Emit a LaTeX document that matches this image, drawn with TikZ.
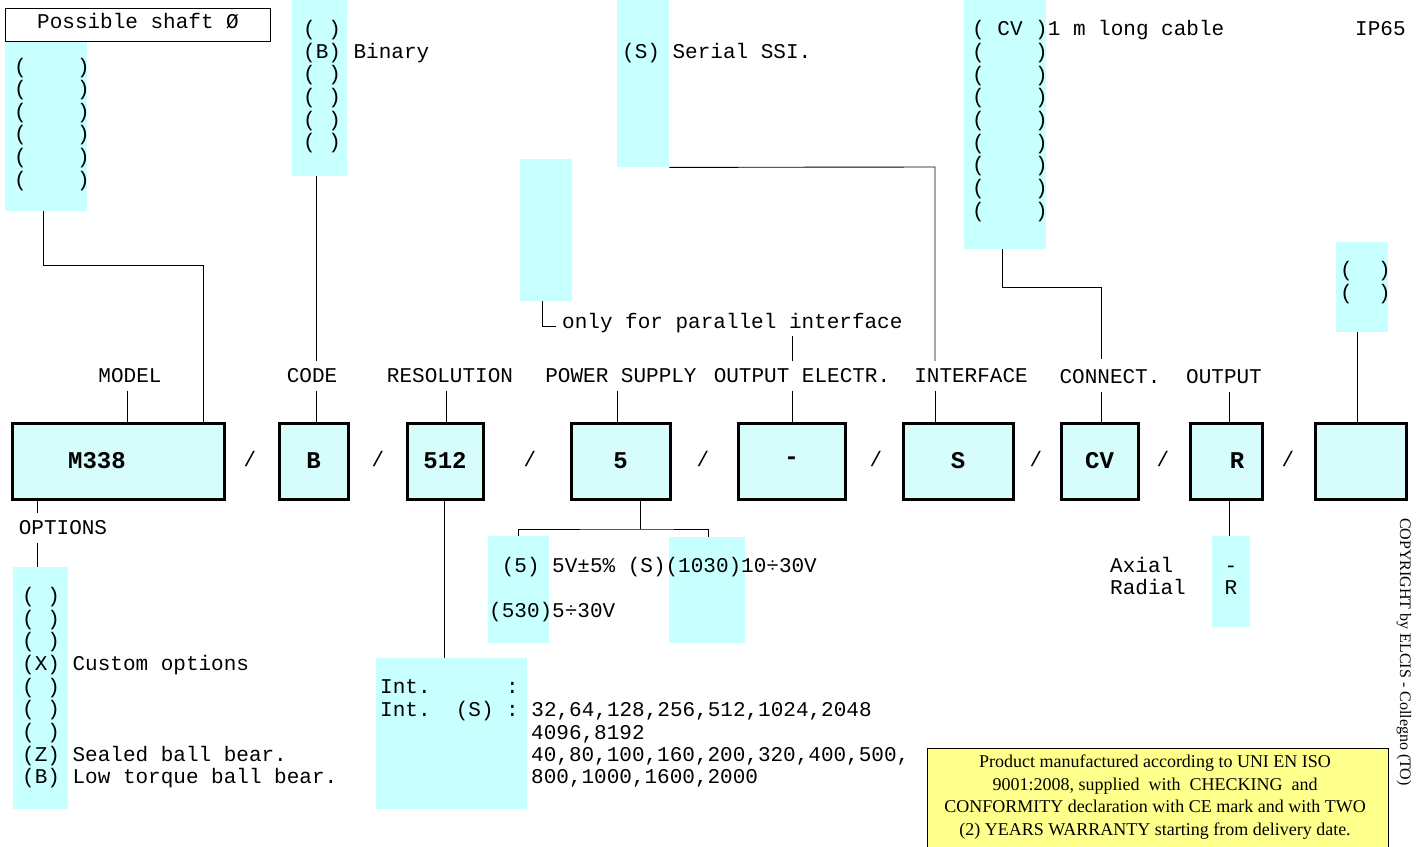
\documentclass[tikz,border=0pt]{standalone}
\usepackage{fontspec}
\setmainfont{Liberation Serif}
\newfontfamily\mono{Liberation Mono}
\definecolor{colc}{RGB}{200,255,255}
\definecolor{boxc}{RGB}{214,252,252}
\definecolor{yel}{RGB}{255,255,140}
\begin{document}
\begin{tikzpicture}[x=1pt,y=-1pt,
  colbox/.style={fill=colc, draw=none, inner sep=0pt, anchor=north west},
  mbox/.style={draw, line width=3pt, fill=boxc, minimum height=76pt, inner sep=0pt, font=\mono\bfseries\fontsize{24}{26}\selectfont},
  txt/.style={anchor=base west, inner sep=0pt, font=\mono\fontsize{21}{22.6}\selectfont},
  lab/.style={inner xsep=0pt, inner ysep=9pt, text height=12pt, text depth=0pt, font=\mono\fontsize{21}{22.6}\selectfont},
  conn/.style={line width=0.9pt},
  slash/.style={inner sep=0pt, font=\mono\fontsize{21}{22.6}\selectfont}]
\useasboundingbox (0,0) rectangle (1423,846);
\fill[white] (0,0) rectangle (1423,846);

% ---- colour columns
\node[colbox, minimum width=82pt, minimum height=170pt] (shaft) at (5,41) {};
\node[colbox, minimum width=55pt, minimum height=176pt] (code) at (292,0) {};
\node[colbox, minimum width=52pt, minimum height=142pt] (par) at (520,159) {};
\node[colbox, minimum width=52pt, minimum height=167pt] (ser) at (617,0) {};
\node[colbox, minimum width=82pt, minimum height=249pt] (cvc) at (964,0) {};
\node[colbox, minimum width=52pt, minimum height=90pt] (lastc) at (1336,242) {};
\node[colbox, minimum width=55pt, minimum height=242pt] (opt) at (13,567) {};
\node[colbox, minimum width=151pt, minimum height=151pt] (res) at (376,658) {};
\node[colbox, minimum width=61pt, minimum height=107pt] (pa) at (488,536) {};
\node[colbox, minimum width=76pt, minimum height=106pt] (pb) at (669,537) {};
\node[colbox, minimum width=38pt, minimum height=91pt] (outc) at (1212,536) {};

% ---- shaft title box
\node[draw, line width=1pt, minimum width=265pt, minimum height=33pt, anchor=north west, inner sep=0pt] (shafttitle) at (5,8) {};
\node[txt] (tshaft) at (37,28) {Possible shaft Ø};

% ---- main boxes
\node[mbox, minimum width=212pt] (m338) at (118,461) {};
\node[inner sep=0pt, font=\mono\bfseries\fontsize{24}{26}\selectfont] (tm338) at (97,461) {M338};
\node[mbox, minimum width=69pt] (bcode) at (313.5,461) {B};
\node[mbox, minimum width=76pt] (bres) at (445,461) {512};
\node[mbox, minimum width=99pt] (bps) at (620.5,461) {5};
\node[mbox, minimum width=107pt] (boe) at (791.5,461) {-};
\node[mbox, minimum width=110pt] (bif) at (958,461) {S};
\node[mbox, minimum width=77pt] (bcon) at (1099.5,461) {CV};
\node[mbox, minimum width=72pt] (bout) at (1226,461) {};
\node[inner sep=0pt, font=\mono\bfseries\fontsize{24}{26}\selectfont] (tr) at (1237,461) {R};
\node[mbox, minimum width=91pt] (blast) at (1360.5,461) {};

% ---- slashes
\foreach \x [count=\i] in {250,378,530,703,876,1036,1163,1288}
  \node[slash] (sl\i) at (\x,459) {/};

% ---- labels
\node[lab] (lmodel) at (130,376) {MODEL};
\node[lab] (lcode) at (312,376) {CODE};
\node[lab] (lres) at (450,376) {RESOLUTION};
\node[lab] (lps) at (621,376) {POWER SUPPLY};
\node[lab] (loe) at (802,376) {OUTPUT ELECTR.};
\node[lab] (lif) at (971,376) {INTERFACE};
\node[lab] (lcon) at (1110,377) {CONNECT.};
\node[lab] (lout) at (1224,377) {OUTPUT};
\node[lab] (lopt) at (63,528) {OPTIONS};
\coordinate (lastlab) at (1357,380);

% ---- ticks label -> box
\draw[conn] ([xshift=-3pt]lmodel.south) -- ([xshift=-3pt]lmodel.south |- m338.north);
\draw[conn] ([xshift=4pt]lcode.south) -- ([xshift=4pt]lcode.south |- bcode.north);
\draw[conn] ([xshift=-4pt]lres.south) -- ([xshift=-4pt]lres.south |- bres.north);
\draw[conn] ([xshift=-4pt]lps.south) -- ([xshift=-4pt]lps.south |- bps.north);
\draw[conn] ([xshift=-10pt]loe.south) -- ([xshift=-10pt]loe.south |- boe.north);
\draw[conn] ([xshift=-36pt]lif.south) -- ([xshift=-36pt]lif.south |- bif.north);
\draw[conn] ([xshift=-9pt]lcon.south) -- ([xshift=-9pt]lcon.south |- bcon.north);
\draw[conn] ([xshift=5pt]lout.south) -- ([xshift=5pt]lout.south |- bout.north);
\draw[conn] ([yshift=17pt]lastlab) -- (lastlab |- blast.north);
\draw[conn] (lastc.south -| lastlab) -- ([yshift=-18pt]lastlab);

% ---- connectors from top columns
\coordinate (k1) at (203,265);
\draw[conn] ([xshift=38pt]shaft.south west) |- (k1) -- (k1 |- m338.north);
\draw[conn] ([xshift=24pt]code.south west) -- ([xshift=24pt]code.south west |- lcode.north);
\coordinate (k2) at (935,167);
\draw[conn] (ser.south east) -- (k2) -- (k2 |- lif.north);
\coordinate (k3) at (1101,287);
\draw[conn] ([xshift=38pt]cvc.south west) |- (k3) -- ([yshift=3pt]k3 |- lcon.north);
\node[txt] (tpar) at (562,328) {only for parallel interface};
\draw[conn] ([xshift=22pt]par.south west) |- ([xshift=-6pt]tpar.base west |- 0,326);
\draw[conn] ([xshift=-10pt]loe.north |- 0,336) -- ([xshift=-10pt]loe.north);

% ---- connectors below boxes
\coordinate (k4) at (37,513);
\draw[conn] (k4 |- m338.south) -- (k4);
\draw[conn] (k4 |- lopt.south) -- (k4 |- opt.north);
\draw[conn] ([xshift=-1pt]bres.south) -- ([xshift=-1pt]bres.south |- res.north);
\coordinate (k5) at (640,529);
\draw[conn] (k5 |- bps.south) -- (k5);
\draw[conn] ([xshift=30pt]pa.north west) |- (k5) -| ([xshift=39pt]pb.north west);
\draw[conn] ([xshift=3pt]bout.south) -- ([xshift=3pt]bout.south |- outc.north);

% ---- column texts
\foreach \y [count=\i] in {73,95,118,140,163,186}
  \node[txt] (sh\i) at (14,\y) {(~~~~)};
\node[txt] (c1) at (303,35) {(~)};
\node[txt] (c2) at (303,58) {(B)~Binary};
\foreach \y [count=\i] in {80,103,126,148}
  \node[txt] (cc\i) at (303,\y) {(~)};
\node[txt] (tser) at (622,58) {(S)~Serial~SSI.};
\node[txt] (cv0) at (972,35) {(~CV~)1~m~long~cable};
\foreach \y [count=\i] in {58,81,103,126,149,171,194,217}
  \node[txt] (cv\i) at (972,\y) {(~~~~)};
\node[txt] (ip) at (1355,35) {IP65};
\node[txt] (la1) at (1340,276) {(~~)};
\node[txt] (la2) at (1340,299) {(~~)};

\foreach \y [count=\i] in {602,625,647,693,715,738}
  \node[txt] (o\i) at (22,\y) {(~)};
\node[txt] (ox) at (22,670) {(X)~Custom~options};
\node[txt] (oz) at (22,761) {(Z)~Sealed~ball~bear.};
\node[txt] (ob) at (22,783) {(B)~Low~torque~ball~bear.};

\node[txt] (r1) at (380,693) {Int.~~~~~~:};
\node[txt] (r2) at (380,716) {Int.~~(S)~:~32,64,128,256,512,1024,2048};
\node[txt] (r3) at (531,739) {4096,8192};
\node[txt] (r4) at (531,761) {40,80,100,160,200,320,400,500,};
\node[txt] (r5) at (531,783) {800,1000,1600,2000};

\node[txt] (p1) at (489,572) {~(5)~5V±5\%~(S)(1030)10÷30V};
\node[txt] (p2) at (489,617) {(530)5÷30V};

\node[txt] (ax) at (1110,572) {Axial};
\node[txt] (rad) at (1110,594) {Radial};
\node[txt, anchor=base] (axv) at (1231,572) {-};
\node[txt, anchor=base] (radv) at (1231,594) {R};

% ---- warranty box
\node[draw, line width=1.2pt, fill=yel, minimum width=461pt, minimum height=100pt, anchor=north west, inner sep=0pt] (warr) at (927,748) {};
\node[align=center, inner sep=0pt, font=\fontsize{18}{22.5}\selectfont] (twarr) at (1155,797) {Product manufactured according to UNI EN ISO\\9001:2008, supplied~ with~ CHECKING~ and\\CONFORMITY declaration with CE mark and with TWO\\(2) YEARS WARRANTY starting from delivery date.};

% ---- copyright
\node[rotate=-90, inner sep=0pt, font=\fontsize{16}{18}\selectfont] (copy) at (1404,652) {COPYRIGHT by ELCIS - Collegno (TO)};
\end{tikzpicture}
\end{document}
